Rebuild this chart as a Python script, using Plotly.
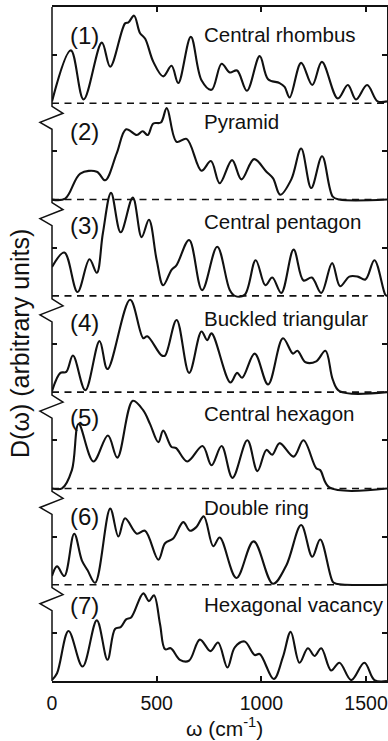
import plotly.graph_objects as go

# ---------------- data ----------------
panel_names = ["Central rhombus", "Pyramid", "Central pentagon", "Buckled triangular",
               "Central hexagon", "Double ring", "Hexagonal vacancy"]
panel_tags = ["(1)", "(2)", "(3)", "(4)", "(5)", "(6)", "(7)"]

p1_x = [0, 90, 151, 238, 278, 349, 365, 392, 420, 445, 484, 531, 571, 603, 663, 714, 762, 810, 849, 884,
        931, 992, 1032, 1087, 1111, 1135, 1190, 1243, 1289, 1365, 1413, 1452, 1505, 1555, 1600]
p1_y = [0.02, 0.55, 0.04, 0.63, 0.38, 0.83, 0.84, 0.91, 0.73, 0.67, 0.43, 0.28, 0.39, 0.21, 0.69, 0.24,
        0.14, 0.41, 0.32, 0.34, 0.13, 0.49, 0.25, 0.21, 0.17, 0.06, 0.42, 0.19, 0.43, 0.05, 0.19, 0.04,
        0.19, 0.02, 0.02]

p2_x = [0, 63, 135, 214, 254, 309, 354, 405, 433, 457, 484, 520, 548, 595, 643, 714, 759, 801, 860, 905,
        965, 1024, 1056, 1090, 1143, 1190, 1238, 1290, 1341, 1373, 1600]
p2_y = [0.0, 0.01, 0.27, 0.29, 0.20, 0.48, 0.73, 0.67, 0.71, 0.67, 0.79, 0.80, 0.95, 0.60, 0.63, 0.30,
        0.40, 0.17, 0.41, 0.21, 0.42, 0.29, 0.22, 0.05, 0.21, 0.53, 0.12, 0.45, 0.03, 0.0, 0.0]

p3_x = [0, 59, 122, 179, 214, 243, 282, 328, 386, 428, 463, 500, 531, 571, 595, 655, 717, 789, 849, 873,
        920, 973, 1019, 1052, 1095, 1154, 1201, 1241, 1286, 1338, 1376, 1420, 1460, 1497, 1540, 1592, 1600]
p3_y = [0.30, 0.45, 0.04, 0.38, 0.24, 0.65, 1.07, 0.66, 1.02, 0.61, 0.79, 0.37, 0.11, 0.27, 0.32, 0.58,
        0.06, 0.51, 0.06, 0.0, 0.01, 0.37, 0.11, 0.19, 0.03, 0.48, 0.16, 0.19, 0.03, 0.34, 0.10, 0.20,
        0.20, 0.17, 0.37, 0.01, 0.0]

p4_x = [0, 40, 68, 100, 159, 227, 265, 373, 436, 455, 524, 540, 595, 655, 714, 741, 762, 852, 884, 908,
        968, 1032, 1103, 1151, 1172, 1211, 1262, 1306, 1341, 1373, 1600]
p4_y = [0.01, 0.20, 0.21, 0.38, 0.02, 0.53, 0.24, 0.96, 0.56, 0.58, 0.38, 0.38, 0.75, 0.20, 0.63, 0.54,
        0.61, 0.10, 0.20, 0.15, 0.40, 0.08, 0.56, 0.40, 0.43, 0.31, 0.32, 0.43, 0.13, 0.01, 0.0]

p5_x = [0, 48, 95, 127, 198, 267, 312, 386, 436, 468, 508, 531, 571, 592, 646, 719, 762, 810, 862, 933,
        981, 1024, 1052, 1087, 1154, 1201, 1262, 1281, 1325, 1600]
p5_y = [0.0, 0.0, 0.19, 0.67, 0.28, 0.55, 0.32, 0.91, 0.81, 0.67, 0.48, 0.60, 0.43, 0.42, 0.28, 0.44,
        0.24, 0.44, 0.11, 0.50, 0.18, 0.40, 0.35, 0.47, 0.33, 0.50, 0.21, 0.19, 0.01, 0.0]

p6_x = [0, 24, 59, 106, 143, 170, 206, 278, 317, 349, 405, 444, 508, 540, 579, 627, 659, 690, 725, 770,
        801, 881, 963, 1055, 1119, 1190, 1243, 1281, 1341, 1357, 1600]
p6_y = [0.09, 0.19, 0.09, 0.53, 0.25, 0.15, 0.02, 0.79, 0.50, 0.69, 0.53, 0.56, 0.26, 0.43, 0.48, 0.65,
        0.56, 0.60, 0.71, 0.40, 0.49, 0.07, 0.45, 0.01, 0.20, 0.62, 0.29, 0.47, 0.03, 0.01, 0.0]

p7_x = [0, 24, 79, 146, 214, 265, 301, 328, 354, 378, 436, 463, 487, 516, 540, 567, 611, 654, 706, 757,
        793, 838, 873, 920, 968, 992, 1059, 1103, 1140, 1182, 1222, 1254, 1286, 1333, 1373, 1429, 1492,
        1540, 1600]
p7_y = [0.01, 0.08, 0.52, 0.15, 0.63, 0.22, 0.54, 0.56, 0.64, 0.66, 0.91, 0.83, 0.89, 0.59, 0.33, 0.34,
        0.22, 0.21, 0.43, 0.31, 0.40, 0.14, 0.35, 0.41, 0.27, 0.28, 0.02, 0.25, 0.51, 0.19, 0.34, 0.26,
        0.34, 0.11, 0.19, 0.01, 0.19, 0.01, 0.0]

x_ticks = [0, 500, 1000, 1500]
x_tick_labels = ["0", "500", "1000", "1500"]

series_x = [p1_x, p2_x, p3_x, p4_x, p5_x, p6_x, p7_x]
series_y = [p1_y, p2_y, p3_y, p4_y, p5_y, p6_y, p7_y]

# ---------------- layout constants ----------------
W, H = 388, 741
ML, MR, MT, MB = 52, 1, 7, 60
PW = W - ML - MR
PH = H - MT - MB
NP = 7
px_y = NP / PH          # data units per pixel (y)
XMAX = 1600
FONT = "Liberation Sans, Arial, Helvetica, sans-serif"
INK = "#111111"

tag_off = [28, 28, 26, 27, 25, 28, 21]          # px below panel top (centre)
name_off = [27, 18.5, 21.7, 23, 21, 19, 19.5]
tag_x = 153
name_x = 716

fig = go.Figure()

for i in range(NP):
    base = NP - 1 - i
    fig.add_trace(go.Scatter(
        x=series_x[i], y=[v + base for v in series_y[i]],
        mode="lines", line=dict(color=INK, width=2.1, shape="spline", smoothing=1.0),
        hoverinfo="skip", showlegend=False, cliponaxis=False))

# dashed zero baselines
shapes = []
for k in range(1, NP):
    shapes.append(dict(type="line", xref="x", yref="y", x0=0, x1=XMAX, y0=k, y1=k,
                       line=dict(color=INK, width=1.6, dash="7px,5.5px"), layer="below"))

# left axis with break marks
def px2paper(dx):
    return dx / PW

path = "M 0,%f" % NP
for k in range(NP - 1, 0, -1):
    a = k - 3 * px_y
    b = k - 10 * px_y
    c = k - 19 * px_y
    d = k - 26 * px_y
    path += " L 0,%f L %f,%f L %f,%f L 0,%f" % (a, px2paper(11), b, px2paper(-12), c, d)
path += " L 0,0"
shapes.append(dict(type="path", xref="paper", yref="y", path=path,
                   line=dict(color=INK, width=1.5), layer="above"))
fig.update_layout(shapes=shapes)

ann = []
for i in range(NP):
    top = NP - i
    ann.append(dict(x=tag_x, y=top - tag_off[i] * px_y, xref="x", yref="y", text=panel_tags[i],
                    showarrow=False, xanchor="center", yanchor="middle",
                    font=dict(family=FONT, size=24, color=INK)))
    ann.append(dict(x=name_x, y=top - name_off[i] * px_y, xref="x", yref="y", text=panel_names[i],
                    showarrow=False, xanchor="left", yanchor="middle",
                    font=dict(family=FONT, size=20.5, color=INK)))

ann.append(dict(x=(20 - ML) / PW, y=0.5, xref="paper", yref="paper", text="D(ω) (arbitrary units)",
                showarrow=False, textangle=-90, xanchor="center", yanchor="middle",
                font=dict(family=FONT, size=25, color=INK)))
ann.append(dict(x=(224 - ML) / PW, y=-(727 - (MT + PH)) / PH, xref="paper", yref="paper",
                text="ω (cm<sup>-1</sup>)", showarrow=False, xanchor="center", yanchor="middle",
                font=dict(family=FONT, size=21, color=INK)))
fig.update_layout(annotations=ann)

mid_ticks = [k + 0.5 for k in range(NP)]

fig.update_layout(
    width=W, height=H,
    margin=dict(l=ML, r=MR, t=MT, b=MB, pad=0, autoexpand=False),
    paper_bgcolor="white", plot_bgcolor="white",
    xaxis=dict(range=[0, XMAX], tickvals=x_ticks, ticktext=x_tick_labels, automargin=False,
               ticks="inside", ticklen=5, tickwidth=1.5, tickcolor=INK,
               showline=True, linewidth=1.5, linecolor=INK, mirror="ticks",
               showgrid=False, zeroline=False, ticklabelstandoff=4,
               tickfont=dict(family=FONT, size=19.5, color=INK)),
    yaxis=dict(range=[0, NP], tickvals=mid_ticks, showticklabels=False, automargin=False,
               ticks="inside", ticklen=5, tickwidth=1.5, tickcolor=INK,
               showline=False, showgrid=False, zeroline=False),
    yaxis2=dict(range=[0, NP], tickvals=mid_ticks, showticklabels=False, overlaying="y", side="right",
                automargin=False,
                ticks="inside", ticklen=5, tickwidth=1.5, tickcolor=INK,
                showline=True, linewidth=1.5, linecolor=INK, showgrid=False, zeroline=False),
)
# dummy trace to activate yaxis2
fig.add_trace(go.Scatter(x=[None], y=[None], yaxis="y2", showlegend=False, hoverinfo="skip"))

fig.write_html("out.html", config={"displayModeBar": False},
               post_script="document.body.style.margin='0px';document.body.style.overflow='hidden';")
